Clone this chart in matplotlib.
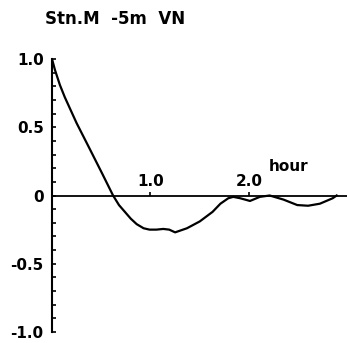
import matplotlib
matplotlib.use("Agg")
import matplotlib.pyplot as plt
from matplotlib.ticker import MultipleLocator

# Data (lag in hours, autocorrelation)
lag_hours = [0.0, 0.03, 0.08, 0.13, 0.25, 0.37, 0.51, 0.62, 0.68, 0.74, 0.80, 0.86, 0.93, 0.99,
             1.06, 1.13, 1.19, 1.25, 1.37, 1.50, 1.63, 1.71, 1.79, 1.84, 1.91, 2.01,
             2.11, 2.21, 2.35, 2.49, 2.60, 2.72, 2.85, 2.89]
correlation = [1.0, 0.92, 0.81, 0.72, 0.53, 0.36, 0.16, 0.0, -0.07, -0.12, -0.17, -0.21, -0.24, -0.25,
               -0.25, -0.245, -0.25, -0.27, -0.24, -0.19, -0.12, -0.06, -0.02, -0.01, -0.02, -0.04,
               -0.01, 0.0, -0.03, -0.07, -0.075, -0.06, -0.02, 0.0]

y_ticks = [-1.0, -0.5, 0.0, 0.5, 1.0]
y_tick_labels = ["-1.0", "-0.5", "0", "0.5", "1.0"]
x_ticks = [1.0, 2.0]
x_tick_labels = ["1.0", "2.0"]
title_text = "Stn.M  -5m  VN"
x_unit = "hour"

plt.rcParams['font.family'] = ['DejaVu Sans']
plt.rcParams['font.weight'] = 'bold'

fig = plt.figure(figsize=(3.47, 3.43), dpi=100)
ax = fig.add_axes([52/347, 1-332/343, 1-52/347, (332-59)/343])
ax.plot(lag_hours, correlation, color='black', lw=1.6, solid_joinstyle='round')
ax.set_xlim(0, 2.995)
ax.set_ylim(-1.0, 1.0)

for s in ['right', 'bottom']:
    ax.spines[s].set_visible(False)
ax.spines['top'].set_position(('data', 0))
ax.spines['top'].set_linewidth(1.3)
ax.spines['left'].set_linewidth(1.5)

ax.xaxis.set_ticks_position('top')
ax.set_xticks(x_ticks)
ax.set_xticklabels(x_tick_labels, fontsize=11, fontweight='bold')
ax.tick_params(axis='x', direction='out', length=3, width=1.2, pad=2)

ax.set_yticks(y_ticks)
ax.set_yticklabels(y_tick_labels, fontsize=11, fontweight='bold')
ax.yaxis.set_minor_locator(MultipleLocator(0.1))
ax.tick_params(axis='y', which='both', direction='in', length=3, width=1.2, pad=6)

ax.text(2.4, 0.21, x_unit, ha='center', va='center', fontsize=11, fontweight='bold')
fig.text(45/347, 1-19/343, title_text, ha='left', va='center', fontsize=12, fontweight='bold')

fig.savefig("out.png", dpi=100)
